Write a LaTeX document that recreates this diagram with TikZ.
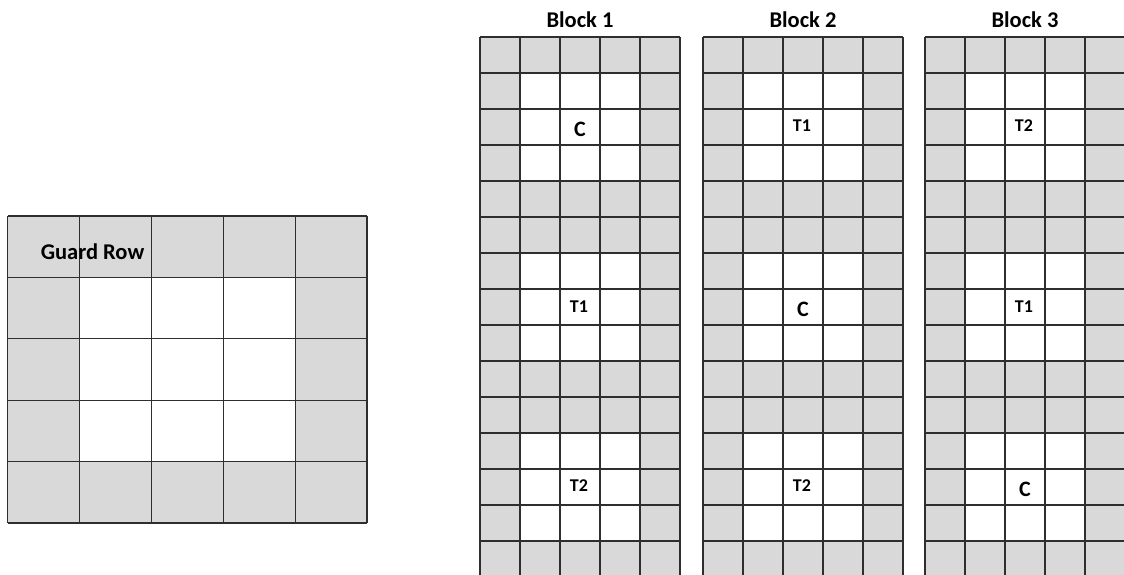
\documentclass[tikz,border=0pt]{standalone}
\usepackage{fontspec}
\setmainfont{Carlito}
\definecolor{guardgray}{HTML}{D9D9D9}
\definecolor{gridcol}{HTML}{2E2E2E}
\begin{document}
\begin{tikzpicture}[x=1pt,y=-1pt,
  gridline/.style={draw=gridcol, line width=1.2pt},
  title/.style={font=\bfseries\fontsize{22.5}{22.5}\selectfont, anchor=base, inner sep=0pt},
  cmark/.style={font=\bfseries\fontsize{22}{22}\selectfont, inner sep=0pt},
  tmark/.style={font=\bfseries\fontsize{18}{18}\selectfont, inner sep=0pt}]
\useasboundingbox (0,0) rectangle (1124,574);
\begin{scope}
\clip (0,0) rectangle (1124,574);
% left grid
\fill[guardgray] (7.5,216) rectangle (367,523);
\fill[white] (79.4,277.4) rectangle (295.1,461.6);
\foreach \i in {0,...,5} \draw[gridline] (7.5+71.9*\i,216) -- (7.5+71.9*\i,523);
\foreach \j in {0,...,5} \draw[gridline] (7.5,216+61.4*\j) -- (367,216+61.4*\j);
% blocks
\foreach \bx in {480,703,925} {
  \fill[guardgray] (\bx,37) rectangle (\bx+200,577);
  \foreach \w in {0,5,10} \fill[white] (\bx+40,73+36*\w) rectangle (\bx+160,181+36*\w);
  \foreach \i in {0,...,5} \draw[gridline] (\bx+40*\i,37) -- (\bx+40*\i,577);
  \foreach \j in {0,...,15} \draw[gridline] (\bx,37+36*\j) -- (\bx+200,37+36*\j);
}
\end{scope}
% labels
\node[title] (g) at (92.5,259) {Guard Row};
\node[title] (t1) at (580,27) {Block 1};
\node[title] (t2) at (803,27) {Block 2};
\node[title] (t3) at (1025,27) {Block 3};
\node[cmark] (b1c) at (580,129) {C};
\node[tmark] (b1t1) at (579,307) {T1};
\node[tmark] (b1t2) at (579,486) {T2};
\node[tmark] (b2t1) at (802,126) {T1};
\node[cmark] (b2c) at (803,309) {C};
\node[tmark] (b2t2) at (802,486) {T2};
\node[tmark] (b3t2) at (1024,126) {T2};
\node[tmark] (b3t1) at (1024,307) {T1};
\node[cmark] (b3c) at (1025,489) {C};
\end{tikzpicture}
\end{document}
